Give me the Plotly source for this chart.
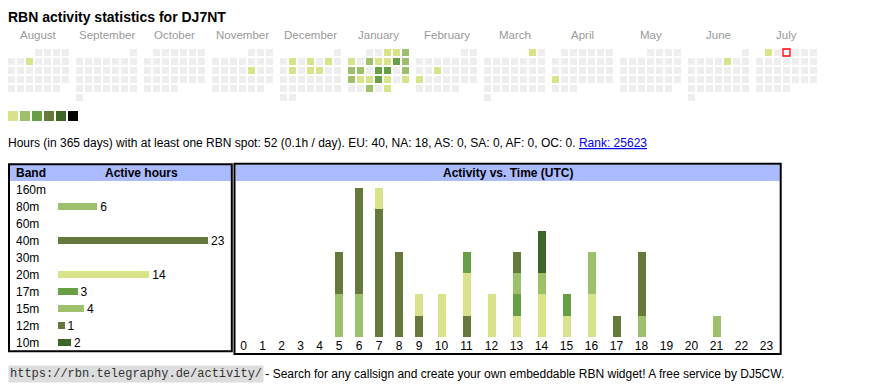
import datetime as dt
import plotly.graph_objects as go

W, H = 870, 390
FONT = "Liberation Sans, Arial, sans-serif"
MONO = "Liberation Mono, Courier New, monospace"

# ---------------- data ----------------
callsign = "DJ7NT"
month_names = ["August", "September", "October", "November", "December", "January",
               "February", "March", "April", "May", "June", "July"]
first_year, first_month = 2024, 8
today = "2025-07-03"

level_colors = ["#d9e38a", "#9dc16b", "#689f45", "#65793a", "#3c6526", "#000000"]
empty_color = "#eeeeee"

active_dates = [
    "2024-08-07", "2024-11-15",
    "2024-12-03", "2024-12-05", "2024-12-07", "2024-12-10", "2024-12-12", "2024-12-13",
    "2025-01-03", "2025-01-04", "2025-01-05",
    "2025-01-06", "2025-01-08", "2025-01-09", "2025-01-10", "2025-01-11", "2025-01-12",
    "2025-01-13", "2025-01-14", "2025-01-16", "2025-01-17", "2025-01-19",
    "2025-01-20", "2025-01-21", "2025-01-22", "2025-01-23", "2025-01-24", "2025-01-26",
    "2025-01-29", "2025-01-31",
    "2025-02-12", "2025-02-17", "2025-03-01", "2025-04-21", "2025-06-06", "2025-07-01",
]
active_levels = [
    1, 1,
    1, 1, 1, 1, 1, 1,
    1, 1, 2,
    1, 2, 1, 1, 3, 2,
    2, 2, 3, 3, 2,
    2, 1, 1, 3, 1, 1,
    2, 1,
    1, 1, 1, 1, 1, 1,
]

days_window = 365
hours_total = 52
hours_per_day = 0.1
continents = ["EU", "NA", "AS", "SA", "AF", "OC"]
continent_hours = [40, 18, 0, 0, 0, 0]
rank = 25623

bands = ["160m", "80m", "60m", "40m", "30m", "20m", "17m", "15m", "12m", "10m"]
band_hours = [0, 6, 0, 23, 0, 14, 3, 4, 1, 2]
band_colors = ["#d9e38a", "#9dc16b", "#689f45", "#65793a", "#3c6526",
               "#d9e38a", "#689f45", "#9dc16b", "#65793a", "#3c6526"]

hours = list(range(24))
hourly = {
    #        0  1  2  3  4  5  6  7  8  9 10 11 12 13 14 15 16 17 18 19 20 21 22 23
    "160m": [0, 0, 0, 0, 0, 0, 0, 0, 0, 0, 0, 0, 0, 0, 0, 0, 0, 0, 0, 0, 0, 0, 0, 0],
    "80m":  [0, 0, 0, 0, 0, 2, 2, 0, 0, 0, 0, 0, 0, 0, 0, 0, 0, 0, 1, 0, 0, 1, 0, 0],
    "60m":  [0, 0, 0, 0, 0, 0, 0, 0, 0, 0, 0, 0, 0, 0, 0, 0, 0, 0, 0, 0, 0, 0, 0, 0],
    "40m":  [0, 0, 0, 0, 0, 2, 5, 6, 4, 1, 0, 1, 0, 0, 0, 0, 0, 1, 3, 0, 0, 0, 0, 0],
    "30m":  [0, 0, 0, 0, 0, 0, 0, 0, 0, 0, 0, 0, 0, 0, 0, 0, 0, 0, 0, 0, 0, 0, 0, 0],
    "20m":  [0, 0, 0, 0, 0, 0, 0, 1, 0, 1, 2, 2, 2, 1, 2, 1, 2, 0, 0, 0, 0, 0, 0, 0],
    "17m":  [0, 0, 0, 0, 0, 0, 0, 0, 0, 0, 0, 1, 0, 1, 0, 1, 0, 0, 0, 0, 0, 0, 0, 0],
    "15m":  [0, 0, 0, 0, 0, 0, 0, 0, 0, 0, 0, 0, 0, 1, 1, 0, 2, 0, 0, 0, 0, 0, 0, 0],
    "12m":  [0, 0, 0, 0, 0, 0, 0, 0, 0, 0, 0, 0, 0, 1, 0, 0, 0, 0, 0, 0, 0, 0, 0, 0],
    "10m":  [0, 0, 0, 0, 0, 0, 0, 0, 0, 0, 0, 0, 0, 0, 2, 0, 0, 0, 0, 0, 0, 0, 0, 0],
}

# ---------------- layout constants (pixels) ----------------
CAL_X0, CAL_Y0, BLOCK_W, PITCH, CELL = 8, 49, 68, 9, 7
LEG_X0, LEG_Y0, LEG_PITCH, LEG_SIZE = 8, 111, 12, 10
HEADER_BLUE = "#aabbff"
TXT = 12          # body text size
LPAD = 2.5        # annotation inner padding compensation


def pyv(y):
    """pixel y -> paper fraction"""
    return 1 - y / H


fig = go.Figure()

# ---------------- calendar ----------------
lvl_map = dict(zip(active_dates, active_levels))


def cell_pos(d, k):
    first = d.replace(day=1)
    col = d.weekday()
    row = (d.day - 1 + first.weekday()) // 7
    return (CAL_X0 + k * BLOCK_W + col * PITCH + CELL / 2,
            CAL_Y0 + row * PITCH + CELL / 2)


cx, cy, cc = [], [], []
today_pos = None
for k in range(12):
    m = first_month - 1 + k
    yr, mo = first_year + m // 12, m % 12 + 1
    d = dt.date(yr, mo, 1)
    while d.month == mo:
        x, y = cell_pos(d, k)
        cx.append(x)
        cy.append(y)
        lv = lvl_map.get(d.isoformat(), 0)
        cc.append(level_colors[lv - 1] if lv else empty_color)
        if d.isoformat() == today:
            today_pos = (x, y)
        d += dt.timedelta(days=1)
    fig.add_annotation(x=CAL_X0 + k * BLOCK_W + (7 * PITCH - 2) / 2, y=34.5,
                       xref="x", yref="y", text=month_names[k], showarrow=False,
                       xanchor="center", yanchor="middle",
                       font=dict(family=FONT, size=11.5, color="#999999"))

fig.add_trace(go.Scatter(x=cx, y=cy, mode="markers", xaxis="x", yaxis="y",
                         marker=dict(symbol="square", size=CELL, color=cc, line=dict(width=0)),
                         hoverinfo="skip", showlegend=False))
if today_pos:
    fig.add_trace(go.Scatter(x=[today_pos[0]], y=[today_pos[1]], mode="markers",
                             xaxis="x", yaxis="y",
                             marker=dict(symbol="square", size=CELL, color="#ffffff",
                                         line=dict(width=1.3, color="#ff0000")),
                             hoverinfo="skip", showlegend=False))

# legend squares
fig.add_trace(go.Scatter(
    x=[LEG_X0 + i * LEG_PITCH + LEG_SIZE / 2 for i in range(len(level_colors))],
    y=[LEG_Y0 + LEG_SIZE / 2] * len(level_colors), mode="markers", xaxis="x", yaxis="y",
    marker=dict(symbol="square", size=LEG_SIZE, color=level_colors, line=dict(width=0)),
    hoverinfo="skip", showlegend=False))

# ---------------- info line ----------------
cont_txt = ", ".join(f"{c}: {v}" for c, v in zip(continents, continent_hours))
info = (f"Hours (in {days_window} days) with at least one RBN spot: {hours_total} "
        f"({hours_per_day}h / day). {cont_txt}. "
        f"<span style='color:#0000ee'><u>Rank: {rank}</u></span>")
fig.add_annotation(x=8 - LPAD, y=142.5, xref="x", yref="y", text=info, showarrow=False,
                   xanchor="left", yanchor="middle",
                   font=dict(family=FONT, size=TXT, color="#000000"))

fig.add_annotation(x=8 - LPAD, y=16.5, xref="x", yref="y",
                   text=f"<b>RBN activity statistics for {callsign}</b>", showarrow=False,
                   xanchor="left", yanchor="middle",
                   font=dict(family=FONT, size=14, color="#000000"))

# ---------------- band table ----------------
BT_ROW_TOP, BT_ROW_BOTTOM = 181, 351
fig.add_trace(go.Bar(
    orientation="h", x=band_hours, y=bands, xaxis="x2", yaxis="y2",
    marker=dict(color=band_colors, line=dict(width=0)), width=7 / 17,
    text=[str(v) if v else "" for v in band_hours], textposition="outside",
    cliponaxis=False, constraintext="none",
    textfont=dict(family=FONT, size=TXT, color="#000000"),
    hoverinfo="skip", showlegend=False))
for b in bands:
    fig.add_annotation(x=16.5 - LPAD, y=b, xref="x", yref="y2", text=b, showarrow=False,
                       xanchor="left", yanchor="middle",
                       font=dict(family=FONT, size=TXT, color="#000000"))

# ---------------- activity vs time ----------------
totals = [sum(hourly[b][h] for b in bands) for h in hours]
col_w = [25 if h >= 10 else (20 if totals[h] > 0 else 19) for h in hours]
centers = []
acc = 0
for w in col_w:
    centers.append(acc + w / 2)
    acc += w
for b, colr in zip(bands, band_colors):
    if sum(hourly[b]) == 0:
        continue
    fig.add_trace(go.Bar(x=centers, y=hourly[b], xaxis="x3", yaxis="y3", width=8,
                         marker=dict(color=colr, line=dict(width=0)),
                         hoverinfo="skip", showlegend=False))

# ---------------- boxes / headers ----------------
shapes = [
    dict(type="rect", xref="x", yref="y", x0=10, x1=231, y0=165, y1=181,
         fillcolor=HEADER_BLUE, line=dict(width=0), layer="below"),
    dict(type="rect", xref="x", yref="y", x0=235.5, x1=779.7, y0=165, y1=181,
         fillcolor=HEADER_BLUE, line=dict(width=0), layer="below"),
    dict(type="rect", xref="x", yref="y", x0=9, x1=231.8, y0=164.2, y1=351.3,
         line=dict(width=2, color="#000000"), fillcolor="rgba(0,0,0,0)"),
    dict(type="rect", xref="x", yref="y", x0=234.5, x1=780.7, y0=163.8, y1=354,
         line=dict(width=2, color="#000000"), fillcolor="rgba(0,0,0,0)"),
]
hdr_font = dict(family=FONT, size=TXT, color="#000000")
for x, t, anc in [(16.5 - LPAD, "Band", "left"), (141.7, "Active hours", "center"),
                  (507.5, "Activity vs. Time (UTC)", "center")]:
    fig.add_annotation(x=x, y=173, xref="x", yref="y", text=f"<b>{t}</b>", showarrow=False,
                       xanchor=anc, yanchor="middle", font=hdr_font)

# ---------------- footer ----------------
fig.add_annotation(x=8, y=374, xref="x", yref="y", text="https://rbn.telegraphy.de/activity/",
                   showarrow=False, xanchor="left", yanchor="middle", bgcolor="#dddddd",
                   borderpad=1, font=dict(family=MONO, size=12, color="#333333"))
fig.add_annotation(x=262 - LPAD, y=374, xref="x", yref="y",
                   text=" - Search for any callsign and create your own embeddable RBN widget! "
                        "A free service by DJ5CW.",
                   showarrow=False, xanchor="left", yanchor="middle",
                   font=dict(family=FONT, size=TXT, color="#000000"))

hidden = dict(showgrid=False, zeroline=False, showline=False, showticklabels=False,
              ticks="", fixedrange=True)
fig.update_layout(
    width=W, height=H, autosize=False, margin=dict(l=0, r=0, t=0, b=0, pad=0),
    paper_bgcolor="#ffffff", plot_bgcolor="rgba(0,0,0,0)",
    barmode="stack", bargap=0, shapes=shapes, showlegend=False,
    font=dict(family=FONT, size=TXT, color="#000000"),
    xaxis=dict(domain=[0, 1], range=[0, W], **hidden),
    yaxis=dict(domain=[0, 1], range=[H, 0], **hidden),
    xaxis2=dict(domain=[58 / W, 208 / W], range=[0, max(band_hours)], anchor="y2", **hidden),
    yaxis2=dict(domain=[pyv(BT_ROW_BOTTOM), pyv(BT_ROW_TOP)], type="category",
                categoryorder="array", categoryarray=bands, range=[len(bands) - 0.5, -0.5],
                anchor="x2", **hidden),
    xaxis3=dict(domain=[234 / W, (234 + sum(col_w)) / W], range=[0, sum(col_w)], anchor="y3",
                showgrid=False, zeroline=False, showline=False, ticks="", fixedrange=True,
                tickmode="array", tickvals=centers, ticktext=[str(h) for h in hours],
                tickfont=dict(family=FONT, size=TXT, color="#000000")),
    yaxis3=dict(domain=[pyv(337), pyv(188)], range=[0, max(totals)], anchor="x3", **hidden),
)

fig.write_html("out.html", config={"displayModeBar": False, "staticPlot": True},
               post_script="document.body.style.margin='0';document.body.style.overflow='hidden';")
